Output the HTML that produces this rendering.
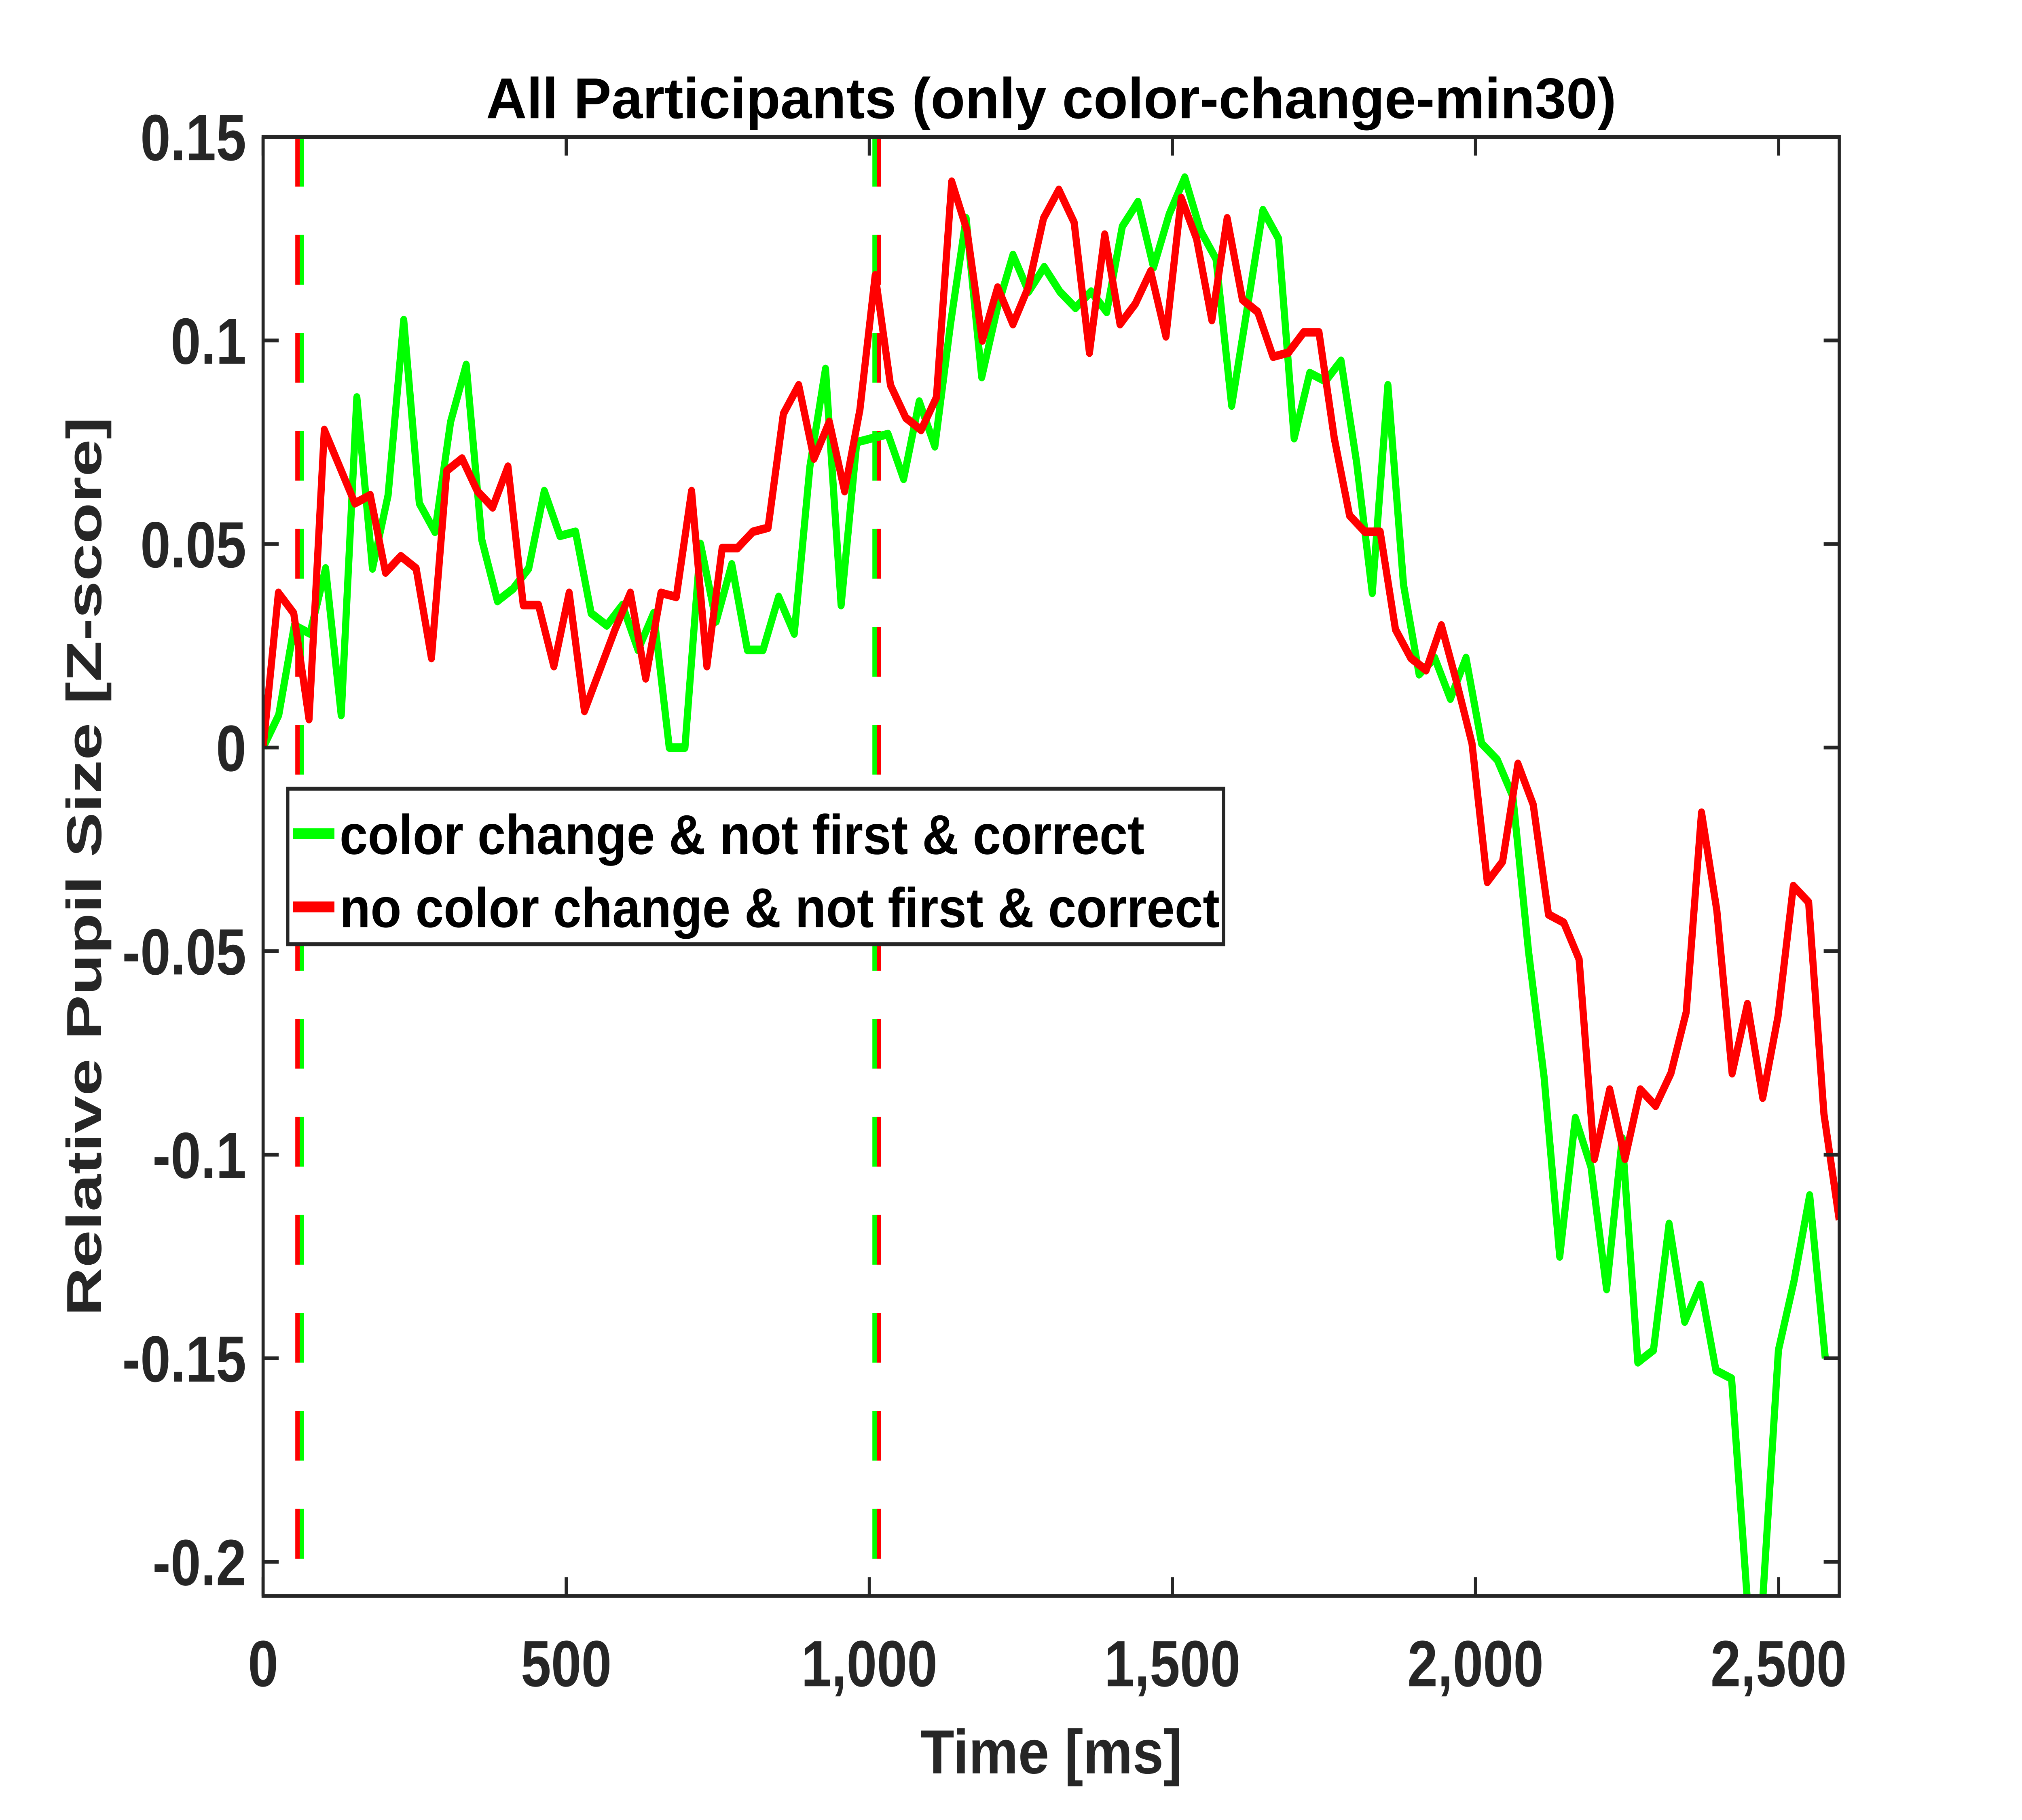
<!DOCTYPE html>
<html><head><meta charset="utf-8"><style>
html,body{margin:0;padding:0;background:#fff;width:100%;height:100%;overflow:hidden;}
svg{display:block;position:fixed;left:0;top:0;width:100vw;height:100vh;}
text{font-family:"Liberation Sans",Arial,sans-serif;font-weight:bold;}
</style></head>
<body>
<svg id="chart" viewBox="0 0 1560 1170" preserveAspectRatio="none" xmlns="http://www.w3.org/2000/svg">
<rect x="0" y="0" width="1560" height="1170" fill="#fff"/>
<g id="plot"></g>
<g id="axes"></g>
<text x="811" y="76" text-anchor="middle" font-size="37" fill="#000" textLength="872" lengthAdjust="spacingAndGlyphs">All Participants (only color-change-min30)</text>
<text x="811" y="1140" text-anchor="middle" font-size="40" fill="#262626" textLength="202" lengthAdjust="spacingAndGlyphs">Time [ms]</text>
<text transform="translate(78,557) rotate(-90)" text-anchor="middle" font-size="38" fill="#262626" textLength="578" lengthAdjust="spacingAndGlyphs">Relative Pupil Size [Z-score]</text>
<g>
<rect x="222" y="507" width="722" height="100" fill="#fff" stroke="#262626" stroke-width="2.5"/>
<line x1="226" y1="536" x2="258" y2="536" stroke="#00ff00" stroke-width="7"/>
<text x="262" y="549" font-size="36" fill="#000" textLength="621" lengthAdjust="spacingAndGlyphs">color change &amp; not first &amp; correct</text>
<line x1="226" y1="583" x2="258" y2="583" stroke="#ff0000" stroke-width="7"/>
<text x="262" y="596" font-size="36" fill="#000" textLength="679" lengthAdjust="spacingAndGlyphs">no color change &amp; not first &amp; correct</text>
</g>
</svg>
<script>
const greenValues = [0,.008,.030,.028,.044,.008,.086,.044,.062,.105,.060,.053,.080,.094,.051,.036,.039,.044,.063,.052,.053,.033,.030,.035,.024,.033,.000,.000,.050,.031,.045,.024,.024,.037,.028,.069,.093,.035,.075,.076,.077,.066,.085,.074,.104,.130,.091,.108,.121,.112,.118,.112,.108,.112,.107,.128,.134,.118,.131,.140,.127,.120,.084,.108,.132,.125,.076,.092,.090,.095,.070,.038,.089,.040,.018,.022,.012,.022,.001,-.003,-.012,-.050,-.081,-.125,-.091,-.103,-.133,-.096,-.151,-.148,-.117,-.141,-.132,-.153,-.155,-.209,-.209,-.148,-.131,-.110,-.150];
const redValues = [0,.038,.033,.007,.078,.069,.060,.062,.043,.047,.044,.022,.068,.071,.063,.059,.069,.035,.035,.020,.038,.009,.019,.029,.038,.017,.038,.037,.063,.020,.049,.049,.053,.054,.082,.089,.071,.080,.063,.083,.116,.089,.081,.078,.086,.139,.127,.100,.113,.104,.113,.130,.137,.129,.097,.126,.104,.109,.117,.101,.135,.125,.105,.130,.110,.107,.096,.097,.102,.102,.076,.057,.053,.053,.029,.022,.019,.030,.016,.001,-.033,-.028,-.004,-.014,-.041,-.043,-.052,-.101,-.084,-.101,-.084,-.088,-.080,-.065,-.016,-.040,-.080,-.063,-.086,-.066,-.034,-.038,-.090,-.116];
const greenEndTime = 2577;
const redEndTime = 2600;
const xTicks = [0,500,1000,1500,2000,2500];
const xTickLabels = ["0","500","1,000","1,500","2,000","2,500"];
const yTicks = [0.15,0.1,0.05,0,-0.05,-0.1,-0.15,-0.2];
const yTickLabels = ["0.15","0.1","0.05","0","-0.05","-0.1","-0.15","-0.2"];
const eventTimes = [60, 1012];

const NS = "http://www.w3.org/2000/svg";
const X0 = 203, X1 = 1419, Y0 = 1026, Y1 = 88;
const xMin = 0, xMax = 2600, yMin = -0.2084, yMax = 0.15;
function xs(t){ return X0 + (t - xMin) / (xMax - xMin) * (X1 - X0); }
function ys(v){ return Y0 - (v - yMin) / (yMax - yMin) * (Y0 - Y1); }
function mk(tag, attrs){ const e = document.createElementNS(NS, tag); for (const k in attrs) e.setAttribute(k, attrs[k]); return e; }

const plot = document.getElementById('plot');
const axes = document.getElementById('axes');
const defs = mk('defs', {});
const cp = mk('clipPath', {id:'clip'});
cp.appendChild(mk('rect', {x:X0, y:Y1, width:X1-X0, height:Y0-Y1}));
defs.appendChild(cp);
plot.appendChild(defs);

eventTimes.forEach((t, i) => {
  const x = xs(t);
  const leftCol = i === 0 ? '#ff0000' : '#00ff00';
  const rightCol = i === 0 ? '#00ff00' : '#ff0000';
  const l1 = mk('line', {x1:x-1.5, x2:x-1.5, y1:ys(0.15), y2:ys(-0.2), stroke:leftCol, 'stroke-width':3.5, 'stroke-dasharray':'32 31'});
  
  
  plot.appendChild(l1);
  const l2 = mk('line', {x1:x+1.8, x2:x+1.8, y1:ys(0.15), y2:ys(-0.2), stroke:rightCol, 'stroke-width':3, 'stroke-dasharray':'32 31'});
  
  
  plot.appendChild(l2);
});

function series(vals, endT, color, name){
  const n = vals.length;
  const pts = vals.map((v, i) => xs(i * endT / (n - 1)).toFixed(2) + ',' + ys(v).toFixed(2)).join(' ');
  const p = mk('polyline', {points:pts, fill:'none', stroke:color, 'stroke-width':5.5, 'stroke-linejoin':'round', 'clip-path':'url(#clip)'});
  
  
  plot.appendChild(p);
}
series(greenValues, greenEndTime, '#00ff00', 'series-color-change');
series(redValues, redEndTime, '#ff0000', 'series-no-color-change');

const box = mk('rect', {x:X0, y:Y1, width:X1-X0, height:Y0-Y1, fill:'none', stroke:'#262626', 'stroke-width':2.4});


axes.appendChild(box);

xTicks.forEach((t, i) => {
  const x = xs(t);
  const tb = mk('line', {x1:x, x2:x, y1:Y0, y2:Y0-12, stroke:'#262626', 'stroke-width':2.4});
  
  
  axes.appendChild(tb);
  const tt = mk('line', {x1:x, x2:x, y1:Y1, y2:Y1+12, stroke:'#262626', 'stroke-width':2.4});
  
  
  axes.appendChild(tt);
  const lb = mk('text', {x:x, y:1084, 'text-anchor':'middle', 'font-size':42, fill:'#262626'});
  lb.textContent = xTickLabels[i];
  
  
  axes.appendChild(lb);
});
yTicks.forEach((v, i) => {
  const y = ys(v);
  const tl = mk('line', {x1:X0, x2:X0+12, y1:y, y2:y, stroke:'#262626', 'stroke-width':2.4});
  
  
  axes.appendChild(tl);
  const tr = mk('line', {x1:X1, x2:X1-12, y1:y, y2:y, stroke:'#262626', 'stroke-width':2.4});
  
  
  axes.appendChild(tr);
  const lb = mk('text', {x:190, y:y+15, 'text-anchor':'end', 'font-size':42, fill:'#262626'});
  lb.textContent = yTickLabels[i];
  
  
  axes.appendChild(lb);
});
</script>
</body></html>
